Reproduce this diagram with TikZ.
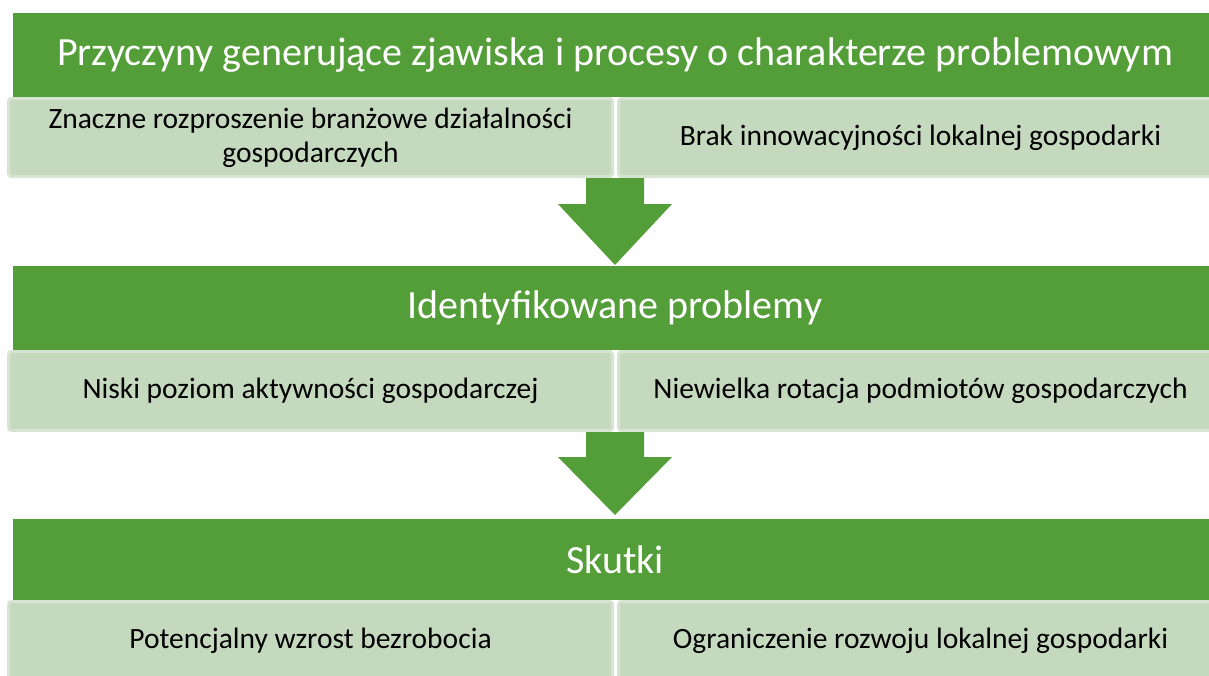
\documentclass[tikz,border=0pt]{standalone}
\usepackage{fontspec}
\setmainfont{Carlito}
\usepackage{tikz}
\definecolor{headgreen}{HTML}{549E39}
\definecolor{boxgreen}{HTML}{C5D9BF}
\definecolor{boxline}{HTML}{D6E4D1}
\newcommand{\headfont}{\fontsize{40}{48}\selectfont}
\newcommand{\boxfont}{\fontsize{29.5}{34}\selectfont}

\begin{document}
\begin{tikzpicture}[x=1pt,y=-1pt]
      \tikzstyle{header}=[fill=headgreen,text=white,font=\headfont,minimum width=1204,inner sep=0pt,anchor=center]
      \tikzstyle{item}=[fill=boxgreen,draw=boxline,line width=3pt,rounded corners=3pt,font=\boxfont,align=center,minimum width=604,inner sep=0pt,anchor=center]
      \tikzstyle{downarrow}=[fill=headgreen]
      \useasboundingbox (0,0) rectangle (1209,675);
      \clip (0,0) rectangle (1209,675);
      %
      \node [header,minimum height=84] (causes)   at (615,55)  {Przyczyny generujące zjawiska i procesy o charakterze problemowym};
      \node [item,minimum height=78]   (spread)   at (310.5,137.5) {Znaczne rozproszenie branżowe działalności\\gospodarczych};
      \node [item,minimum height=78]   (innov)    at (920.5,137.5) {Brak innowacyjności lokalnej gospodarki};
      %
      \node [header,minimum height=84] (problems) at (615,308) {Identyfikowane problemy};
      \node [item,minimum height=79]   (activity) at (310.5,391) {Niski poziom aktywności gospodarczej};
      \node [item,minimum height=79]   (rotation) at (920.5,391) {Niewielka rotacja podmiotów gospodarczych};
      %
      \node [header,minimum height=81] (effects)  at (615,559.5) {Skutki};
      \node [item,minimum height=79]   (unempl)   at (310.5,641) {Potencjalny wzrost bezrobocia};
      \node [item,minimum height=79]   (growth)   at (920.5,641) {Ograniczenie rozwoju lokalnej gospodarki};
      %
      \coordinate (a1top) at (615,178);
      \coordinate (a1tip) at (615,265);
      \coordinate (a2top) at (615,432);
      \coordinate (a2tip) at (615,515);
      \fill [downarrow] (a1top) ++(-29,0) -- ++(0,26) -- ++(-28,0) -- (a1tip) -- ++(57,-61) -- ++(-28,0) -- ++(0,-26) -- cycle;
      \fill [downarrow] (a2top) ++(-29,0) -- ++(0,25) -- ++(-28,0) -- (a2tip) -- ++(57,-58) -- ++(-28,0) -- ++(0,-25) -- cycle;
\end{tikzpicture}
\end{document}
